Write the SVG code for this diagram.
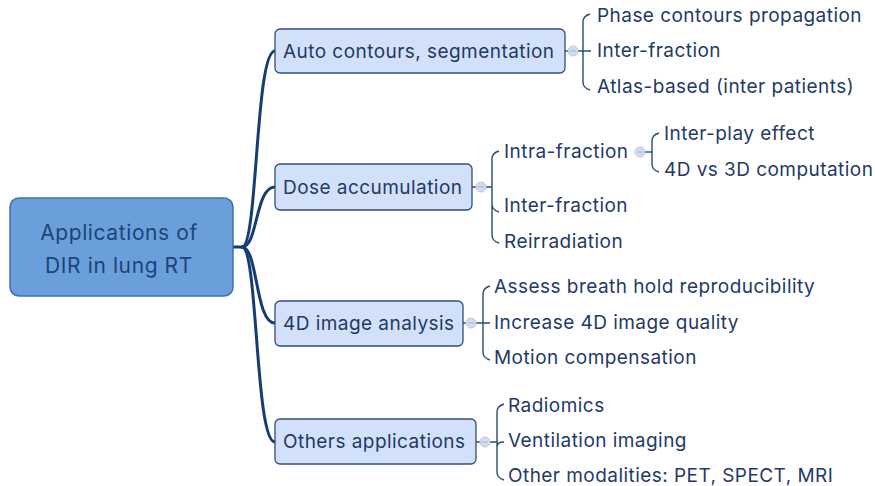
<svg xmlns="http://www.w3.org/2000/svg" width="875" height="486" viewBox="0 0 875 486">
<style>
text{font-family:Inter,Roboto,"Liberation Sans",sans-serif;fill:#1f3a66}
.root{font-size:21px;letter-spacing:0.6px;fill:#1d4477}
.l1{font-size:19px;letter-spacing:0.45px}
.leaf{font-size:19px;letter-spacing:0.45px}
.box{fill:#d3e0f9;stroke:#2f4f80;stroke-width:1.3}
.trunk{fill:none;stroke:#163d73;stroke-width:3;stroke-linecap:round}
.br{fill:none;stroke:#2c4a73;stroke-width:1.4}
.fold{fill:#d3ddef;stroke:#b9c7e0;stroke-width:1}
.fm{stroke:#9fb0cf;stroke-width:1}
</style>
<rect width="875" height="486" fill="#ffffff"/>
<g id="connectors">
<path class="trunk" d="M233 247 H242 C258 247 255 51 275 51"/>
<path class="trunk" d="M242 247 C258 247 255 187 275 187"/>
<path class="trunk" d="M242 247 C258 247 255 323 275 323"/>
<path class="trunk" d="M242 247 C258 247 255 442 275 442"/>
<path class="br" d="M565 51 H568 M578 51 H591"/>
<path class="br" d="M583 51 V22 Q583 16 590 14 M583 51 V82 Q583 88 590 90"/>
<path class="br" d="M472 187 H476 M486 187 H492"/>
<path class="br" d="M492 187 V159 Q492 153 499 151 M492 187 V204 Q492 210 499 212 M492 187 V235 Q492 241 499 243"/>
<path class="br" d="M645 152 H652"/>
<path class="br" d="M652 152 V141 Q652 135 659 133 M652 152 V164 Q652 170 659 172"/>
<path class="br" d="M463 323 H466 M476 323 H490"/>
<path class="br" d="M483 323 V294 Q483 288 490 286 M483 323 V352 Q483 358 490 360"/>
<path class="br" d="M476 442 H480 M490 442 H497"/>
<path class="br" d="M497 442 V412 Q497 406 504 404 M497 442 V447 Q497 442 504 442 M497 442 V472 Q497 478 504 480"/>
</g>
<g id="root">
<rect x="10" y="198" width="223" height="98" rx="9" fill="#6a9fdc" stroke="#3f6fae" stroke-width="1.5"/>
<text class="root" x="119" y="240" text-anchor="middle">Applications of</text>
<text class="root" x="119" y="273" text-anchor="middle">DIR in lung RT</text>
</g>
<g id="auto">
<rect class="box" x="275" y="29" width="290" height="44" rx="5"/>
<text class="l1" x="283" y="58">Auto contours, segmentation</text>
<circle class="fold" cx="573" cy="51" r="5"/><path class="fm" d="M570 51 H576"/>
</g>
<g id="auto-1"><text class="leaf" x="597" y="22">Phase contours propagation</text></g>
<g id="auto-2"><text class="leaf" x="597" y="57">Inter-fraction</text></g>
<g id="auto-3"><text class="leaf" x="597" y="93">Atlas-based (inter patients)</text></g>
<g id="dose">
<rect class="box" x="275" y="164" width="197" height="46" rx="5"/>
<text class="l1" x="283" y="194">Dose accumulation</text>
<circle class="fold" cx="481" cy="187" r="5"/><path class="fm" d="M478 187 H484"/>
</g>
<g id="dose-1">
<text class="leaf" x="504" y="158">Intra-fraction</text>
<circle class="fold" cx="640" cy="152" r="5"/><path class="fm" d="M637 152 H643"/>
</g>
<g id="dose-1-1"><text class="leaf" x="664" y="140">Inter-play effect</text></g>
<g id="dose-1-2"><text class="leaf" x="664" y="176">4D vs 3D computation</text></g>
<g id="dose-2"><text class="leaf" x="504" y="212">Inter-fraction</text></g>
<g id="dose-3"><text class="leaf" x="504" y="248">Reirradiation</text></g>
<g id="img4d">
<rect class="box" x="275" y="301" width="188" height="45" rx="5"/>
<text class="l1" x="283" y="330">4D image analysis</text>
<circle class="fold" cx="471" cy="323" r="5"/><path class="fm" d="M468 323 H474"/>
</g>
<g id="img4d-1"><text class="leaf" x="494" y="293">Assess breath hold reproducibility</text></g>
<g id="img4d-2"><text class="leaf" x="494" y="329">Increase 4D image quality</text></g>
<g id="img4d-3"><text class="leaf" x="494" y="364">Motion compensation</text></g>
<g id="others">
<rect class="box" x="275" y="419" width="201" height="45" rx="5"/>
<text class="l1" x="283" y="448">Others applications</text>
<circle class="fold" cx="485" cy="442" r="5"/><path class="fm" d="M482 442 H488"/>
</g>
<g id="others-1"><text class="leaf" x="508" y="412">Radiomics</text></g>
<g id="others-2"><text class="leaf" x="508" y="447">Ventilation imaging</text></g>
<g id="others-3"><text class="leaf" x="508" y="482">Other modalities: PET, SPECT, MRI</text></g>
</svg>
